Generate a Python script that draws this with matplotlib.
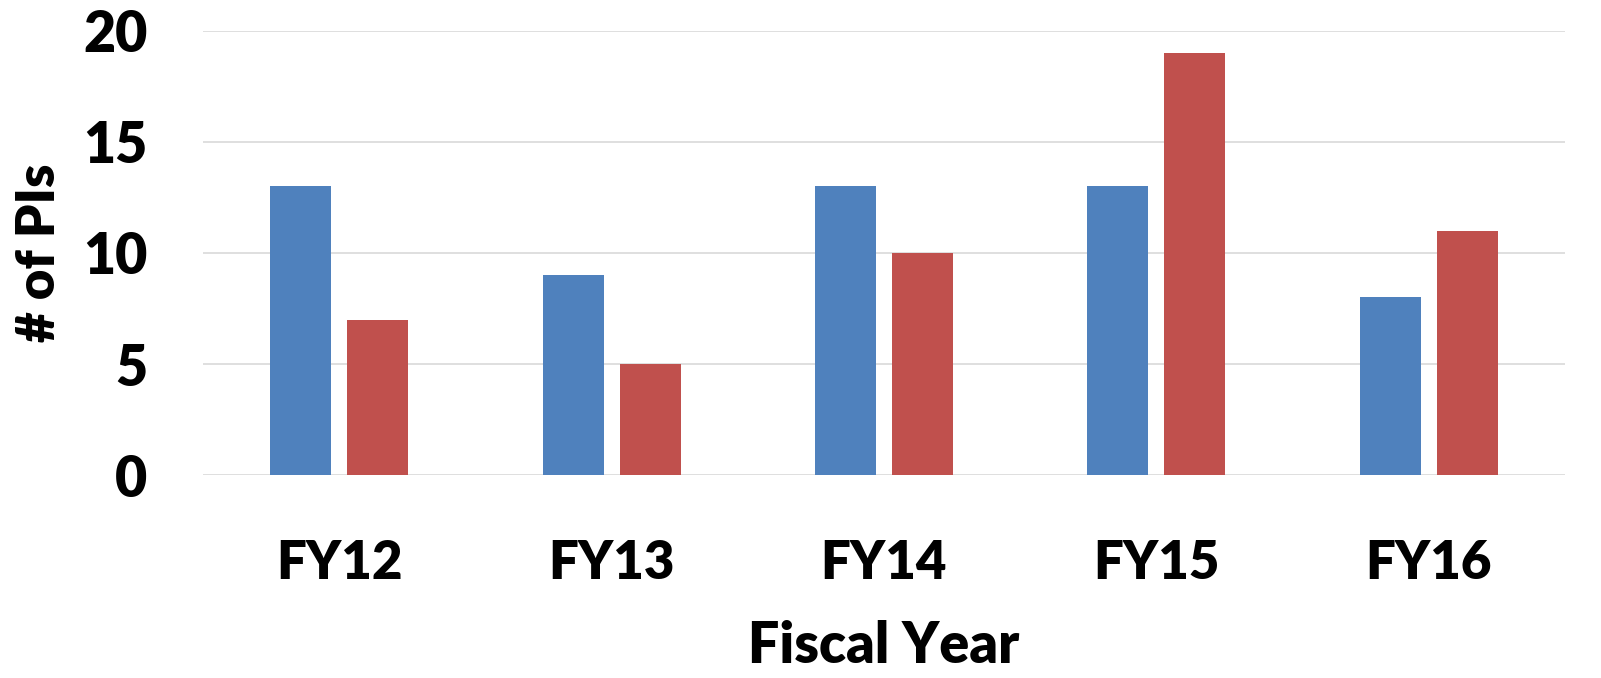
import matplotlib
matplotlib.use("Agg")
import matplotlib.pyplot as plt
import numpy as np

categories = ["FY12", "FY13", "FY14", "FY15", "FY16"]
series_a = [13, 9, 13, 13, 8]
series_b = [7, 5, 10, 19, 11]
yticks = [0, 5, 10, 15, 20]

plt.rcParams['font.family'] = ['Lato', 'DejaVu Sans']
fig = plt.figure(figsize=(16.01, 6.78), dpi=100)
ax = fig.add_axes([0.1268, 0.2994, 0.8507, 0.6549])

x = np.arange(len(categories))
off = 0.1414
w = 0.224
ax.bar(x - off, series_a, width=w, color="#4F81BD", zorder=3)
ax.bar(x + off, series_b, width=w, color="#C0504D", zorder=3)

ax.set_xlim(-0.5, len(categories) - 0.5)
ax.set_ylim(0, 20)
ax.set_yticks(yticks)
ax.set_yticklabels([str(t) for t in yticks], fontsize=40, fontweight='heavy')
ax.set_xticks(x)
ax.set_xticklabels(categories, fontsize=38, fontweight='heavy')
ax.tick_params(axis='both', length=0)
ax.tick_params(axis='x', pad=46)
ax.tick_params(axis='y', pad=40)
ax.grid(axis='y', color='#D9D9D9', linewidth=1.2, zorder=0)
for s in ax.spines.values():
    s.set_visible(False)
ax.set_xlabel("Fiscal Year", fontsize=40, fontweight='heavy', labelpad=23)
ax.set_ylabel("# of PIs", fontsize=38, fontweight='heavy', labelpad=14)

fig.savefig("out.png", dpi=100)
